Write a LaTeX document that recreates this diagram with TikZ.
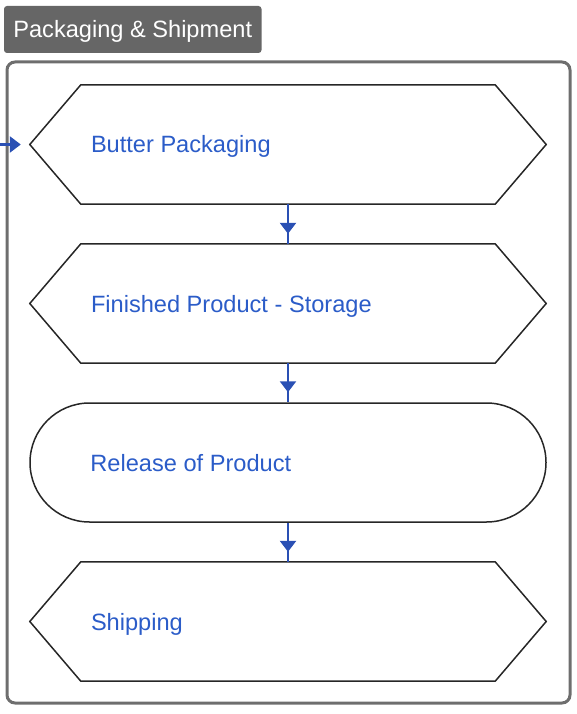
\documentclass[tikz,border=0pt]{standalone}
\usepackage{fontspec}
\setmainfont{Liberation Sans}
\usetikzlibrary{arrows.meta,positioning,calc}
\definecolor{txtblue}{RGB}{43,92,200}
\definecolor{arrblue}{RGB}{42,80,180}
\definecolor{grpgray}{RGB}{102,102,102}
\tikzset{stepbox/.style={rectangle,minimum width=516pt,minimum height=119pt,inner sep=0pt},
outline/.style={draw=black!85,line width=1.5pt,line join=miter},
pill/.style={stepbox,outline,rounded corners=59.5pt},
lbl/.style={text=txtblue,font=\fontsize{23.6}{28}\selectfont,inner sep=0pt,anchor=base west},
link/.style={draw=arrblue,line width=2.5pt},
flow/.style={link,-{Triangle[width=16pt,length=11pt]}}}
\begin{document}
\begin{tikzpicture}[x=1pt,y=-1pt]
\useasboundingbox (0,0) rectangle (576,714);
% group frame and title
\draw[grpgray!95,line width=3pt,rounded corners=8pt] (7,62) rectangle (570,703);
\node[fill=grpgray,rounded corners=3pt,minimum width=257.5pt,minimum height=47pt,inner sep=0pt,text=white,font=\fontsize{23.6}{28}\selectfont,text height=17pt,text depth=0pt] (title) at (132.75,29.5) {Packaging \& Shipment};
% steps
\node[stepbox] (pack) at (288,144.5) {};
\node[stepbox] (store) at (288,303.5) {};
\node[pill] (rel) at (288,462.5) {};
\node[stepbox] (ship) at (288,621.5) {};
\foreach \s in {pack,store,ship}
  \draw[outline] (\s.west) -- ($(\s.north west)+(51,0)$) -- ($(\s.north east)+(-51,0)$) -- (\s.east)
    -- ($(\s.south east)+(-51,0)$) -- ($(\s.south west)+(51,0)$) -- cycle;
\node[lbl] (packl) at ($(pack.west)+(61,8.5)$) {Butter Packaging};
\node[lbl] (storel) at ($(store.west)+(61,8.5)$) {Finished Product - Storage};
\node[lbl] (rell) at ($(rel.west)+(61,8.5)$) {Release of Product};
\node[lbl] (shipl) at ($(ship.west)+(61,8.5)$) {Shipping};
% links
\coordinate (in) at (0,144.5);
\draw[flow,shorten >=9pt] (in) -- (pack.west);
\draw[link] (pack.south) -- (store.north) (store.south) -- (rel.north) (rel.south) -- (ship.north);
\draw[flow,shorten >=10pt] (pack.south) -- (store.north);
\draw[flow,shorten >=10pt] (store.south) -- (rel.north);
\draw[flow,shorten >=10pt] (rel.south) -- (ship.north);
\end{tikzpicture}
\end{document}
